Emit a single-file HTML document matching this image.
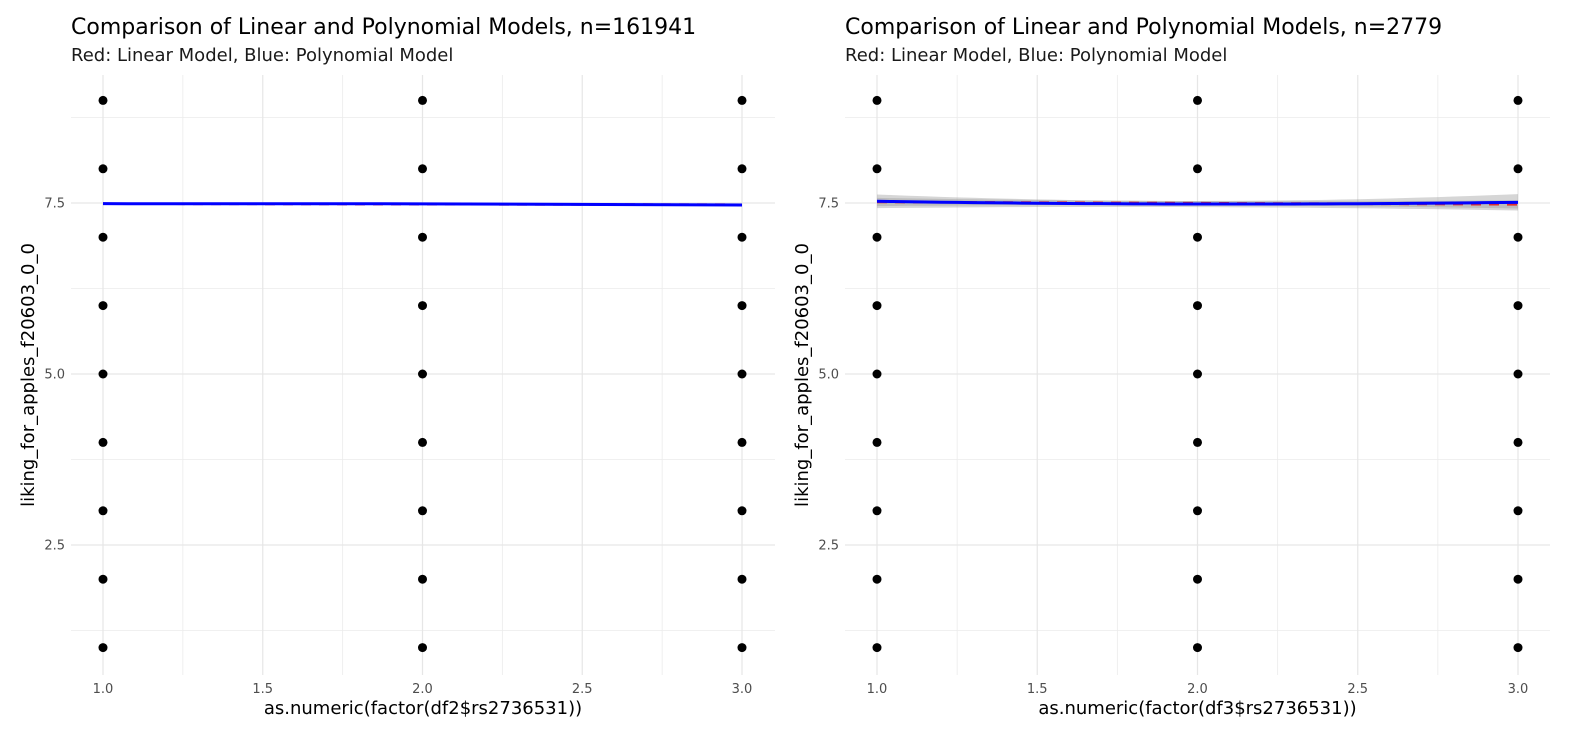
<!DOCTYPE html>
<html><head><meta charset="utf-8"><style>
body{margin:0;background:#fff;font-family:"DejaVu Sans","Liberation Sans",sans-serif}
</style></head><body>
<svg id="c" width="1580" height="741" xmlns="http://www.w3.org/2000/svg"></svg>
<script>
const xCats=[1,2,3];
const yVals=[1,2,3,4,5,6,7,8,9];
const xTicks=[1.0,1.5,2.0,2.5,3.0];
const yTicks=[2.5,5.0,7.5];
const titles=["Comparison of Linear and Polynomial Models, n=161941","Comparison of Linear and Polynomial Models, n=2779"];
const xLabels=["as.numeric(factor(df2$rs2736531))","as.numeric(factor(df3$rs2736531))"];
const linLeft=[7.49,7.475];
const polyLeft=[7.49,7.488,7.47];
const linRight=[7.515,7.48];
const linRightSe=[0.06,0.03,0.06];
const polyRight=[7.525,7.485,7.51];
const polyRightSe=[0.1,0.045,0.12];
const svg=document.getElementById('c');
const NS='http://www.w3.org/2000/svg';
function mk(t,a,p){const e=document.createElementNS(NS,t);for(const k in a)e.setAttribute(k,a[k]);(p||svg).appendChild(e);return e;}
const panels=[{l:71,r:775,x1:103,x3:742},{l:845,r:1550,x1:877,x3:1518}];
const plotTop=75,plotBot=675;
function yS(v){return 203+(7.5-v)*68.4;}
panels.forEach((p,i)=>{
  const g=mk('g',{});
  
  
  const xS=v=>p.x1+(v-1)*(p.x3-p.x1)/2;
  [1.25,1.75,2.25,2.75].forEach(v=>mk('line',{x1:xS(v),x2:xS(v),y1:plotTop,y2:plotBot,stroke:'#ebebeb','stroke-width':0.8},g));
  [1.25,3.75,6.25,8.75].forEach(v=>mk('line',{x1:p.l,x2:p.r,y1:yS(v),y2:yS(v),stroke:'#ebebeb','stroke-width':0.8},g));
  xTicks.forEach(v=>{mk('line',{x1:xS(v),x2:xS(v),y1:plotTop,y2:plotBot,stroke:'#e6e6e6','stroke-width':1.2},g);
    const t=mk('text',{x:xS(v),y:693,'text-anchor':'middle','font-size':13,fill:'#4d4d4d'},g);t.textContent=v.toFixed(1);
    
    });
  yTicks.forEach(v=>{mk('line',{x1:p.l,x2:p.r,y1:yS(v),y2:yS(v),stroke:'#e6e6e6','stroke-width':1.2},g);
    const t=mk('text',{x:p.l-6,y:yS(v)+4.5,'text-anchor':'end','font-size':13,fill:'#4d4d4d'},g);t.textContent=v.toFixed(1);
    
    });
  xCats.forEach(x=>yVals.forEach(y=>{const c=mk('circle',{cx:xS(x),cy:yS(y),r:4.5,fill:'#000'},g);
    
    }));
  if(i===0){
    const lr=mk('line',{x1:xS(1),x2:xS(3),y1:yS(linLeft[0]),y2:yS(linLeft[1]),stroke:'#e03030','stroke-width':2.5,'stroke-dasharray':'10,8'},g);
    
    
    const pl=mk('path',{d:'M'+xS(1)+','+yS(polyLeft[0])+' L'+xS(2)+','+yS(polyLeft[1])+' L'+xS(3)+','+yS(polyLeft[2]),fill:'none',stroke:'#0000ff','stroke-width':3},g);
    
    
  } else {
    const N=40,pts=[];
    for(let k=0;k<=N;k++){const x=1+2*k/N;
      const L0=(x-2)*(x-3)/2,L1=-(x-1)*(x-3),L2=(x-1)*(x-2)/2;
      pts.push({x,m:polyRight[0]*L0+polyRight[1]*L1+polyRight[2]*L2,s:polyRightSe[0]*L0+polyRightSe[1]*L1+polyRightSe[2]*L2,
        lm:linRight[0]+(linRight[1]-linRight[0])*(x-1)/2,ls:linRightSe[0]*L0+linRightSe[1]*L1+linRightSe[2]*L2});}
    const band=(f,s)=>'M'+pts.map(q=>xS(q.x)+','+yS(f(q)+s(q))).join(' L')+' L'+pts.slice().reverse().map(q=>xS(q.x)+','+yS(f(q)-s(q))).join(' L')+'Z';
    const b1=mk('path',{d:band(q=>q.lm,q=>q.ls),fill:'#999','fill-opacity':0.4},g);
    
    
    const b2=mk('path',{d:band(q=>q.m,q=>q.s),fill:'#999','fill-opacity':0.4},g);
    
    
    const lr=mk('line',{x1:xS(1),x2:xS(3),y1:yS(linRight[0]),y2:yS(linRight[1]),stroke:'#e03030','stroke-width':2.5,'stroke-dasharray':'10,8'},g);
    
    
    const pl=mk('path',{d:'M'+pts.map(q=>xS(q.x)+','+yS(q.m)).join(' L'),fill:'none',stroke:'#0000ff','stroke-width':3},g);
    
    
  }
  const t=mk('text',{x:p.l,y:34,'font-size':22,fill:'#000'},g);t.textContent=titles[i];
  
  
  const s=mk('text',{x:p.l,y:61,'font-size':18,fill:'#1a1a1a'},g);s.textContent='Red: Linear Model, Blue: Polynomial Model';
  
  
  const xl=mk('text',{x:(p.l+p.r)/2,y:714,'text-anchor':'middle','font-size':18,fill:'#000'},g);xl.textContent=xLabels[i];
  
  
  const yx=p.l-37,yy=(plotTop+plotBot)/2;
  const yl=mk('text',{x:yx,y:yy,'text-anchor':'middle','font-size':18,fill:'#000',transform:'rotate(-90 '+yx+' '+yy+')'},g);yl.textContent='liking_for_apples_f20603_0_0';
  
  
});
</script>
</body></html>
